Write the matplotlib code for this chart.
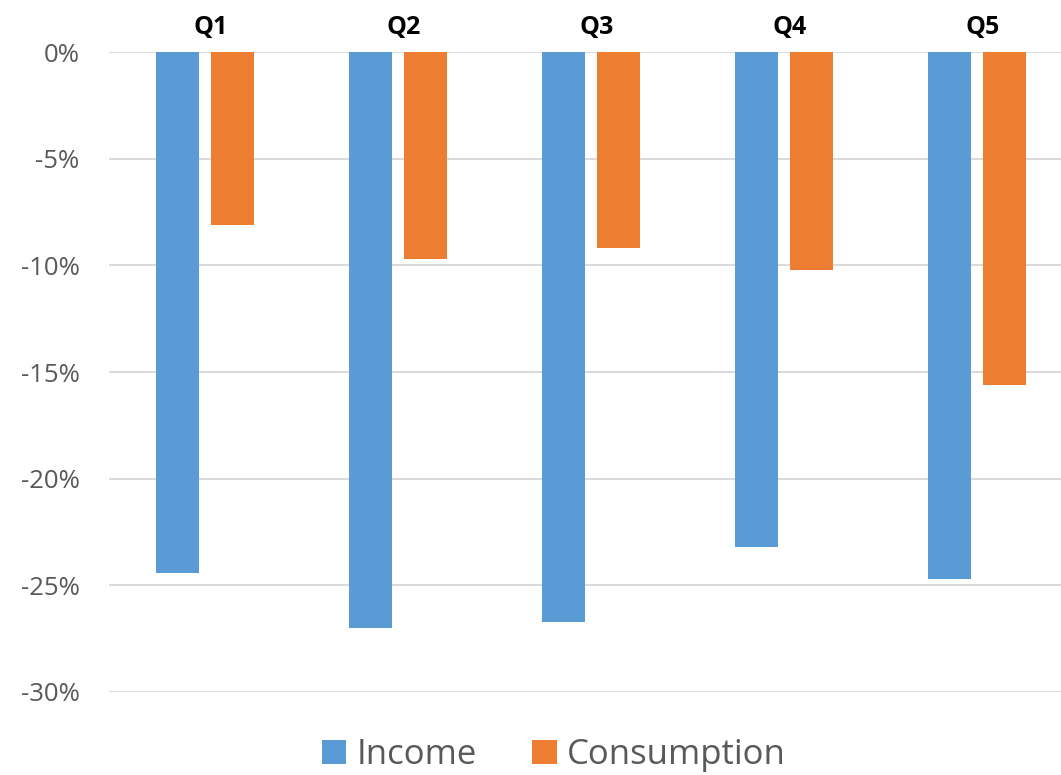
import matplotlib.pyplot as plt
import numpy as np

categories = ["Q1", "Q2", "Q3", "Q4", "Q5"]
income = [-24.4, -27.0, -26.7, -23.2, -24.7]
consumption = [-8.1, -9.7, -9.2, -10.2, -15.6]
yticks = [0, -5, -10, -15, -20, -25, -30]
ytick_labels = ["0%", "-5%", "-10%", "-15%", "-20%", "-25%", "-30%"]

plt.rcParams['font.family'] = ['Open Sans', 'DejaVu Sans']

fig = plt.figure(figsize=(10.61, 7.75), dpi=100)
ax = fig.add_axes([0.1024, 0.1071, 0.9095, 0.8258])

x = np.arange(len(categories))
w = 0.223
off = 0.1425
b1 = ax.bar(x - off, income, w, color="#5B9BD5", label="Income", zorder=3)
b2 = ax.bar(x + off, consumption, w, color="#ED7D31", label="Consumption", zorder=3)

ax.set_xlim(-0.5, 4.5)
ax.set_ylim(-30, 0)
ax.set_yticks(yticks)
ax.set_yticklabels(ytick_labels, fontsize=18.5, color="#595959")
ax.yaxis.grid(True, color="#D9D9D9", linewidth=1.4, zorder=0)
ax.set_axisbelow(True)
ax.tick_params(axis="y", length=0, pad=21)
ax.tick_params(axis="x", length=0, pad=9)
ax.xaxis.tick_top()
ax.set_xticks(x + 0.03)
ax.set_xticklabels(categories, fontsize=18, fontweight="bold", color="black")
for s in ax.spines.values():
    s.set_visible(False)

fig.legend(handles=[b1, b2], loc="center", bbox_to_anchor=(0.522, 0.026),
           ncol=2, frameon=False, fontsize=25, labelcolor="#595959",
           handlelength=0.7, handleheight=0.7, handletextpad=0.3, columnspacing=1.6)

fig.savefig("out.png", dpi=100)
